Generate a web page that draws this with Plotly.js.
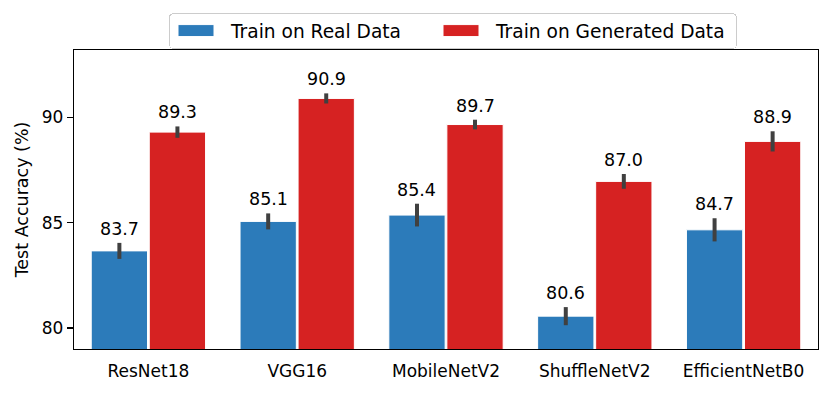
<!DOCTYPE html>
<html>
<head>
<meta charset="utf-8">
<script src="https://cdn.plot.ly/plotly-3.0.1.min.js"></script>
<style>html,body{margin:0;padding:0;background:#fff;}#chart{width:831px;height:393px;}</style>
</head>
<body>
<div id="chart"></div>
<script>
const categories = ["ResNet18", "VGG16", "MobileNetV2", "ShuffleNetV2", "EfficientNetB0"];
const realAcc = [83.66, 85.06, 85.36, 80.56, 84.66];
const realErr = [0.38, 0.38, 0.54, 0.43, 0.55];
const genAcc = [89.3, 90.9, 89.66, 86.96, 88.86];
const genErr = [0.27, 0.24, 0.23, 0.35, 0.48];
const seriesNames = ["Train on Real Data", "Train on Generated Data"];
const yTicks = [80, 85, 90];

const FONT = "DejaVu Sans, Liberation Sans, sans-serif";
const BLUE = "#2c7bba";
const RED = "#d62222";
const ERR = "#404040";
const bargap = 0.22, bargroupgap = 0.03;
const half = (1 - bargap) / 4;

function barTrace(name, vals, errs, color) {
  return {
    type: "bar", name: name, x: categories, y: vals,
    marker: {color: color, line: {color: "#ffffff", width: 1}},
    error_y: {type: "data", array: errs, visible: true, color: ERR, thickness: 4, width: 0},
    hoverinfo: "skip"
  };
}

const annotations = [];
[[realAcc, realErr, -half], [genAcc, genErr, half]].forEach(([vals, errs, off]) => {
  vals.forEach((v, i) => {
    annotations.push({
      x: i + off, y: v + errs[i], xref: "x", yref: "y",
      text: v.toFixed(1), showarrow: false, yanchor: "bottom", yshift: 2,
      font: {family: FONT, size: 17.5, color: "#000"}
    });
  });
});

const layout = {
  width: 831, height: 393,
  margin: {l: 74, r: 13, t: 50, b: 44, autoexpand: false},
  paper_bgcolor: "#fff", plot_bgcolor: "#fff",
  barmode: "group", bargap: bargap, bargroupgap: bargroupgap,
  font: {family: FONT, size: 17, color: "#000"},
  showlegend: true,
  legend: {
    orientation: "h", xref: "container", yref: "container",
    x: 169 / 831, xanchor: "left", y: 1 - 13 / 393, yanchor: "top",
    bordercolor: "#cccccc", borderwidth: 1, bgcolor: "#fff",
    font: {family: FONT, size: 18.6, color: "#000"},
    itemwidth: 51, traceorder: "normal"
  },
  xaxis: {
    type: "category", range: [-0.5, 4.5], ticks: "", showline: true, mirror: true,
    linecolor: "#000", linewidth: 1.3, showgrid: false, zeroline: false,
    tickfont: {family: FONT, size: 17, color: "#000"}, ticklabelstandoff: 6
  },
  yaxis: {
    range: [79, 93.2], tickvals: yTicks, ticktext: yTicks.map(String),
    ticks: "outside", ticklen: 6, tickwidth: 1.2, tickcolor: "#000",
    showline: true, mirror: true, linecolor: "#000", linewidth: 1.3,
    showgrid: false, zeroline: false,
    tickfont: {family: FONT, size: 17, color: "#000"},
    title: {text: "Test Accuracy (%)", font: {family: FONT, size: 17.5, color: "#000"}, standoff: 8}
  },
  annotations: annotations
};

function parseTranslate(el) {
  const m = /translate\(\s*([-\d.e]+)[ ,]+([-\d.e]+)/.exec(el.getAttribute("transform") || "");
  return m ? [parseFloat(m[1]), parseFloat(m[2])] : [0, 0];
}

Plotly.newPlot("chart", [
  barTrace(seriesNames[0], realAcc, realErr, BLUE),
  barTrace(seriesNames[1], genAcc, genErr, RED)
], layout, {displayModeBar: false, staticPlot: true}).then(gd => {
  // legend styling closer to matplotlib: long swatches, wider entry pitch, shorter rounded box
  gd.querySelectorAll(".legend .legendpoints path").forEach(p => {
    p.setAttribute("d", "M13.5,6H-22.5V-6H13.5Z");
  });
  const sb = gd.querySelector(".legend .scrollbox");
  if (sb) sb.removeAttribute("clip-path");
  const traces = gd.querySelectorAll(".legend .traces");
  if (traces.length === 2) {
    const [x0, y0] = parseTranslate(traces[0]);
    const [, y1] = parseTranslate(traces[1]);
    traces[0].setAttribute("transform", `translate(${x0},${y0 - 2})`);
    traces[1].setAttribute("transform", `translate(${x0 + 265},${y1 - 2})`);
  }
  const bg = gd.querySelector(".legend rect.bg");
  if (bg) {
    bg.setAttribute("width", 567); bg.setAttribute("height", 35);
    bg.setAttribute("rx", 4); bg.setAttribute("ry", 4);
  }
});
</script>
</body>
</html>
